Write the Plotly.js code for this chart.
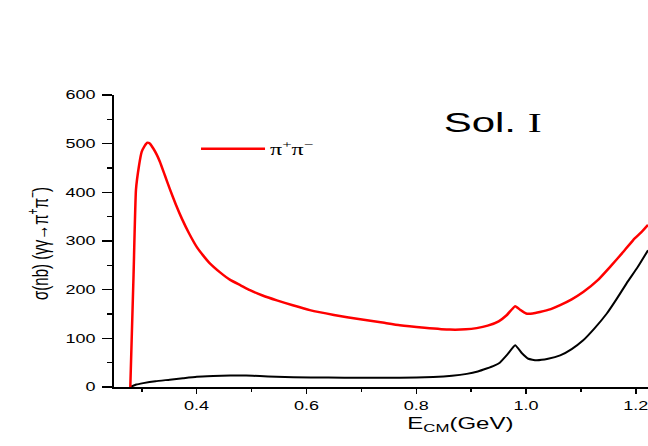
<!DOCTYPE html>
<html><head><meta charset="utf-8">
<script src="https://cdn.plot.ly/plotly-3.0.1.min.js"></script>
<style>html,body{margin:0;padding:0;background:#fff}</style>
</head><body>
<div id="chart" style="width:648px;height:446px"></div>
<script>
// Red curve: pi+ pi- cross section
const xPiPi = [0.2791,0.2850,0.2894,0.2950,0.2998,0.305,0.310,0.315,0.321,0.327,0.333,0.342,0.351,0.362,0.373,0.386,0.400,0.412,0.424,0.442,0.461,0.480,0.497,0.520,0.546,0.575,0.606,0.650,0.698,0.735,0.770,0.815,0.861,0.890,0.910,0.930,0.950,0.965,0.980,0.990,1.000,1.012,1.025,1.045,1.062,1.083,1.104,1.130,1.153,1.175,1.195,1.210,1.222];
const yPiPi = [0,230,405,455,483,495,502,500,490,478,463,435,407,375,346,316,288,270,254,236,220,209,199,188,178,168,158,148,139,133,127,122,118,118.5,121,126,135,148,166,158,151,151,154,160,168,180,195,219,247,275,302,318,333];
// Black curve
const xBlack = [0.2791,0.290,0.3027,0.325,0.351,0.375,0.400,0.430,0.461,0.490,0.515,0.545,0.576,0.640,0.698,0.770,0.831,0.865,0.892,0.912,0.928,0.942,0.952,0.966,0.980,0.992,1.004,1.019,1.040,1.062,1.083,1.104,1.125,1.147,1.165,1.183,1.203,1.222];
const yBlack = [0,5,8,12,15,18,21,22.5,23.5,23.5,22.5,21,20,19.5,19,19,20.5,23,27,32,38,44,50,67,86,70,58,55,58,65,78,96,121,151,181,213,246,281];
const legendName = 'π<sup>+</sup>π<sup>−</sup>';
const panelLabel = 'Sol. <span style="font-family:Liberation Serif">I</span>';
const xTitle = 'E<sub>CM</sub>(GeV)';
const yTitle = 'σ(nb) (γγ→π<sup>+</sup>π<sup>−</sup>)';
const xRange = [0.2494, 1.222];
const yRange = [0, 600];

const traces = [
  {x: xBlack, y: yBlack, mode: 'lines', line: {color: '#000', width: 2, shape: 'spline', smoothing: 0.4}, showlegend: false, hoverinfo: 'skip'},
  {x: xPiPi, y: yPiPi, mode: 'lines', name: legendName, line: {color: '#ff0000', width: 2.5, shape: 'spline', smoothing: 0.4}}
];
const tickFont = {family: 'Liberation Sans, Arial, sans-serif', size: 12, color: '#000'};
const layout = {
  width: 648, height: 446,
  margin: {l: 114, r: 0, t: 95, b: 59},
  paper_bgcolor: '#fff', plot_bgcolor: '#fff',
  showlegend: true,
  legend: {x: 0.1536, y: 0.874, xanchor: 'left', yanchor: 'top', bgcolor: 'rgba(0,0,0,0)', itemwidth: 64,
           font: {family: 'Liberation Serif, serif', size: 16, color: '#000'}},
  xaxis: {range: xRange, showgrid: false, zeroline: false, showline: true, linecolor: '#000', linewidth: 2,
          ticks: 'outside', ticklen: 5, tickwidth: 1.5, tickcolor: '#000', dtick: 0.2, tick0: 0, tickformat: '.1f',
          minor: {dtick: 0.1, ticklen: 3, tickwidth: 1.5, tickcolor: '#000', ticks: 'outside'},
          tickfont: tickFont, ticklabelstandoff: 2},
  xaxis2: {range: xRange, overlaying: 'x', side: 'top', anchor: 'y', showgrid: false, zeroline: false,
           showline: true, linecolor: '#000', linewidth: 1.5, ticks: 'inside', ticklen: 5, tickwidth: 1.5, tickcolor: '#000',
           dtick: 0.2, tick0: 0, showticklabels: false,
           minor: {dtick: 0.1, ticklen: 3, tickwidth: 1.5, tickcolor: '#000', ticks: 'inside'}},
  yaxis: {range: yRange, showgrid: false, zeroline: false, showline: true, linecolor: '#000', linewidth: 2,
          ticks: 'outside', ticklen: 10, tickwidth: 1.5, tickcolor: '#000', dtick: 100, tick0: 0,
          minor: {dtick: 50, ticklen: 5, tickwidth: 1.5, tickcolor: '#000', ticks: 'outside'},
          tickfont: tickFont, ticklabelstandoff: 4},
  annotations: [
    {text: panelLabel, xref: 'paper', yref: 'paper', x: 0.709, y: 0.905, xanchor: 'center', yanchor: 'middle', showarrow: false,
     font: {family: 'Liberation Sans, Arial, sans-serif', size: 28, color: '#000'}},
    {text: xTitle, xref: 'paper', yref: 'paper', x: 0.649, y: -0.128, xanchor: 'center', yanchor: 'middle', showarrow: false,
     font: {family: 'Liberation Sans, Arial, sans-serif', size: 16, color: '#000'}},
    {text: yTitle, xref: 'paper', yref: 'paper', x: -0.1423, y: 0.49, xanchor: 'center', yanchor: 'middle', showarrow: false,
     textangle: -90, font: {family: 'Liberation Sans, Arial, sans-serif', size: 15, color: '#000'}}
  ]
};

function rotatedAncestor(el){
  let n = el;
  while (n && n.tagName && n.tagName.toLowerCase() !== 'svg') {
    const tr = n.getAttribute && n.getAttribute('transform');
    if (tr) { const m = tr.match(/rotate\((-?[\d.]+)/); if (m && Math.abs(parseFloat(m[1])) > 1) return true; }
    n = n.parentNode;
  }
  return false;
}
function stretchText(gd, s){
  gd.querySelectorAll('svg text').forEach(t => {
    if (!t.textContent.trim()) return;
    const bb = t.getBBox();
    const tr = t.getAttribute('transform') || '';
    if (rotatedAncestor(t)) {
      const cy = bb.y + bb.height/2;
      t.setAttribute('transform', tr + ` translate(0,${cy}) scale(1,${s}) translate(0,${-cy})`);
    } else {
      const a = t.getAttribute('text-anchor') || 'start';
      const cx = a === 'middle' ? bb.x + bb.width/2 : (a === 'end' ? bb.x + bb.width : bb.x);
      t.setAttribute('transform', tr + ` translate(${cx},0) scale(${s},1) translate(${-cx},0)`);
    }
  });
  // let the widened legend text show in full
  gd.querySelectorAll('.legend [clip-path], .legend').forEach(el => el.removeAttribute('clip-path'));
}
const gd = document.getElementById('chart');
Plotly.newPlot(gd, traces, layout, {staticPlot: true, displayModeBar: false}).then(() => stretchText(gd, 1.5));
</script>
</body></html>
